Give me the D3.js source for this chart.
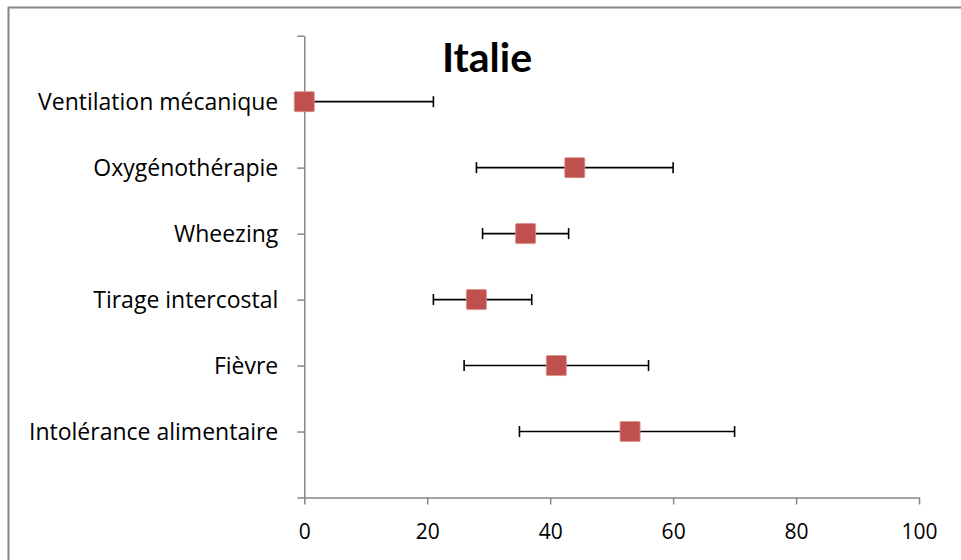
<!DOCTYPE html>
<html>
<head>
<meta charset="utf-8">
<script src="https://cdn.jsdelivr.net/npm/d3@7"></script>
<style>
  body { margin: 0; background: #fff; }
  svg text { font-family: "Open Sans", Lato, sans-serif; fill: #000; }
</style>
</head>
<body>
<svg></svg>
<script>
// data (percent, with lower / upper bounds)
var categories = ['Intolérance alimentaire', 'Fièvre', 'Tirage intercostal', 'Wheezing', 'Oxygénothérapie', 'Ventilation mécanique']
var values = [53, 41, 28, 36, 44, 0]
var lower = [35, 26, 21, 29, 28, 0]
var upper = [70, 56, 37, 43, 60, 21]
var xTicks = [0, 20, 40, 60, 80, 100]

var svgWidth = 961, svgHeight = 560
var axisColor = '#868686'

var svg = d3.select('svg')
    .attr('width', svgWidth)
    .attr('height', svgHeight)

// chart area frame (right and bottom edges run off the page)
svg.append('rect')
    .attr('x', 8.5).attr('y', 7.5)
    .attr('width', 1000).attr('height', 600)
    .attr('fill', 'none')
    .attr('stroke', axisColor)
    .attr('stroke-width', 2)

var xScale = d3.scaleLinear().domain([0, 100]).range([304.3, 919])
// categories sit at 1..6 on a 0..7 value axis
var yScale = d3.scaleLinear().domain([0, 7]).range([497.5, 35.7])

// y axis
var yAxis = svg.append('g')
    .attr('transform', 'translate(' + xScale(0) + ',0)')
    .call(d3.axisLeft(yScale)
        .tickValues(d3.range(0, 8))
        .tickSize(7)
        .tickSizeOuter(0)
        .tickPadding(19)
        .tickFormat(function(d) { return categories[d - 1] || '' }))
yAxis.selectAll('text').style('font-size', '23px').attr('dy', '0.33em')

// x axis
var xAxis = svg.append('g')
    .attr('transform', 'translate(0,' + yScale(0) + ')')
    .call(d3.axisBottom(xScale)
        .tickValues(xTicks)
        .tickSize(7)
        .tickSizeOuter(0)
        .tickPadding(20))
xAxis.selectAll('text').style('font-size', '21px')

svg.selectAll('.domain, .tick line')
    .attr('stroke', axisColor)
    .attr('stroke-width', 1.5)
svg.selectAll('.tick text').style('fill', '#000')

// error bars
var rows = categories.map(function(c, i) {
    return { cat: c, y: i + 1, v: values[i], lo: lower[i], hi: upper[i] }
})

var bars = svg.append('g').selectAll('g')
    .data(rows)
    .enter()
    .append('g')
    .attr('stroke', '#000')
    .attr('stroke-width', 1.6)

bars.append('line')
    .attr('x1', function(d) { return xScale(d.lo) })
    .attr('x2', function(d) { return xScale(d.hi) })
    .attr('y1', function(d) { return yScale(d.y) })
    .attr('y2', function(d) { return yScale(d.y) })

bars.selectAll('.cap')
    .data(function(d) { return d.lo === d.v ? [d.hi] : [d.lo, d.hi] })
    .enter()
    .append('line')
    .attr('class', 'cap')
    .attr('x1', function(v) { return xScale(v) })
    .attr('x2', function(v) { return xScale(v) })
    .attr('y1', function() { return yScale(d3.select(this.parentNode).datum().y) - 5.5 })
    .attr('y2', function() { return yScale(d3.select(this.parentNode).datum().y) + 5.5 })

// square markers
svg.append('g').selectAll('rect')
    .data(rows)
    .enter()
    .append('rect')
    .attr('x', function(d) { return xScale(d.v) - 10 })
    .attr('y', function(d) { return yScale(d.y) - 10 })
    .attr('width', 20)
    .attr('height', 20)
    .attr('rx', 1)
    .attr('fill', '#c0504d')
    .attr('stroke', '#d98f8c')
    .attr('stroke-width', 0.8)

// title
svg.append('text')
    .attr('x', 487)
    .attr('y', 71.7)
    .attr('text-anchor', 'middle')
    .style('font-family', 'Lato, "Open Sans", sans-serif')
    .style('font-size', '41px')
    .style('font-weight', 'bold')
    .text('Italie')
</script>
</body>
</html>
